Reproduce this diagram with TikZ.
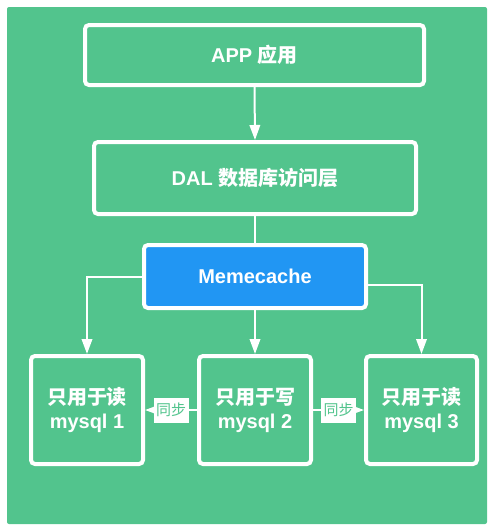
\documentclass[tikz,border=0pt]{standalone}
\usepackage{fontspec}
\setmainfont{Liberation Sans}
\newfontfamily\cjk{Noto Sans CJK SC}
\usetikzlibrary{arrows.meta}
\definecolor{bg}{HTML}{52C48D}
\definecolor{mc}{HTML}{2196F3}
\begin{document}
\begin{tikzpicture}[x=1pt,y=-1pt,
  box/.style={draw=white, line width=4pt, rounded corners=4pt, fill=bg, text=white,
    font=\fontsize{20}{24}\selectfont\bfseries, align=center, inner sep=0pt},
  conn/.style={draw=white, line width=2pt},
  arr/.style={conn, -{Triangle[width=10.5pt,length=15pt]}},
  sync/.style={fill=white, text=bg, font=\fontsize{15}{18}\selectfont\cjk,
    inner sep=0pt, minimum width=35pt, minimum height=25pt}]
\useasboundingbox (0,0) rectangle (489,531);
\fill[bg, rounded corners=2pt] (7,7) rectangle (487,524);

\node[box, minimum width=339pt, minimum height=60pt] (app) at (254.5,55) {APP {\cjk 应用}};
\node[box, minimum width=322pt, minimum height=72pt] (dal) at (255,178) {DAL {\cjk 数据库访问层}};
\node[box, fill=mc, minimum width=222pt, minimum height=63pt] (mem) at (255,276.5) {Memecache};
\node[box, minimum width=112pt, minimum height=108pt] (m1) at (87,410) {{\cjk 只用于读}\\mysql 1};
\node[box, minimum width=112pt, minimum height=108pt] (m2) at (255,410) {{\cjk 只用于写}\\mysql 2};
\node[box, minimum width=111pt, minimum height=108pt] (m3) at (421.5,410) {{\cjk 只用于读}\\mysql 3};

\draw[arr] (app.south) -- (dal.north);
\draw[conn] (dal.south) -- (mem.north);
\draw[arr] (mem.west) -| (m1.north);
\draw[arr] ([yshift=-8pt]mem.east) -| (m3.north);
\draw[arr] (mem.south) -- (m2.north);
\draw[arr] (m2.west) -- (m1.east) node[midway, sync] (s1) {同步};
\draw[arr] (m2.east) -- (m3.west) node[midway, sync] (s2) {同步};
\end{tikzpicture}
\end{document}
